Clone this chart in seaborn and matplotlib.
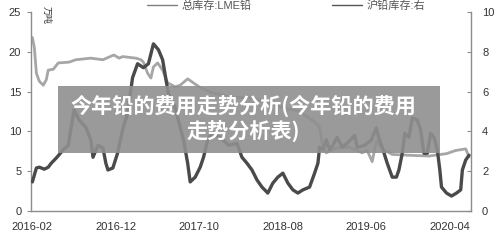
import numpy as np
import pandas as pd
import matplotlib
matplotlib.use("Agg")
import matplotlib.pyplot as plt
from matplotlib.patches import Rectangle
import seaborn as sns

# months since 2016-02 and values
lme_month = [0, 0.24, 0.48, 0.83, 1.31, 1.67, 1.9, 2.5, 3.1, 4.4, 5.2, 7.0, 8.45, 9.76, 10.4, 10.8,
             12.4, 13.0, 13.3, 13.8, 14.2, 14.5, 15.0, 15.6, 16.2, 17.1, 17.7, 18.6, 20.1, 21.7,
             24.0, 26.1, 27.9, 29.6, 32.0, 33.8, 34.4, 34.8, 35.2, 36.4, 38.0, 39.5, 40.1, 40.7,
             41.2, 41.9, 43.1, 45.1, 47.5, 49.6, 50.7, 51.9, 52.3]
lme_value = [21.8, 20.5, 17.3, 16.3, 15.8, 16.5, 17.7, 17.8, 18.6, 18.7, 19.0, 19.2, 19.0, 19.6, 19.2, 19.4,
             19.2, 19.0, 18.7, 17.3, 16.7, 18.1, 18.6, 17.7, 16.1, 15.6, 15.8, 16.6, 15.5, 14.8,
             14.3, 14.2, 13.7, 13.1, 12.5, 11.2, 10.5, 8.0, 7.3, 7.9, 8.0, 7.3, 7.6, 6.2,
             8.8, 7.8, 7.1, 7.0, 6.9, 7.2, 7.6, 7.8, 6.8]

shfe_month = [0, 0.48, 0.83, 1.43, 1.9, 2.26, 2.86, 3.7, 4.3, 4.64, 5.0, 5.6, 6.4, 7.0, 7.26, 7.86, 8.45,
              8.8, 9.05, 9.64, 10.2, 10.8, 11.4, 12.0, 12.6, 13.3, 13.9, 14.5, 15.1, 15.6, 16.0, 16.3,
              17.1, 17.4, 18.1, 18.6, 18.9, 19.5, 20.1, 20.5, 21.0, 21.5, 22.5, 23.5, 24.5, 25.1,
              25.7, 26.3, 26.9, 27.5, 28.2, 28.8, 29.4, 30.0, 30.6, 31.2, 31.8, 32.4, 33.2, 33.8,
              34.2, 34.4, 34.8, 35.2, 35.6, 36.0, 36.5, 37.1, 37.7, 38.6, 38.9, 39.8, 40.6, 41.2,
              41.5, 41.9, 42.5, 43.1, 43.6, 43.9, 44.3, 44.6, 45.1, 45.5, 46.1, 46.5, 46.9, 47.3,
              47.7, 48.1, 48.5, 48.8, 49.0, 49.6, 50.2, 50.8, 51.3, 51.5, 51.9, 52.3]
shfe_value = [1.46, 2.16, 2.2, 2.1, 2.2, 2.4, 2.66, 3.07, 3.3, 4.2, 5.07, 4.57, 4.2, 3.57, 2.7, 3.3, 3.17,
              2.4, 2.06, 2.16, 2.9, 4.07, 4.9, 6.7, 7.4, 7.2, 7.4, 8.4, 8.1, 7.6, 6.6, 5.9,
              5.2, 4.7, 3.57, 2.4, 1.46, 1.7, 2.2, 2.7, 3.57, 3.9, 3.7, 3.3, 3.4, 2.7,
              2.4, 2.06, 1.56, 1.2, 0.9, 1.4, 1.7, 1.9, 1.4, 1.06, 0.9, 1.06, 1.2, 1.9,
              2.4, 3.2, 3.07, 3.57, 3.07, 3.3, 3.7, 3.2, 3.4, 3.8, 3.2, 3.3, 3.57, 4.17,
              3.67, 3.2, 2.4, 1.7, 1.7, 2.06, 2.9, 3.9, 3.7, 4.67, 4.57, 4.07, 2.9, 2.9,
              3.9, 3.7, 3.07, 2.06, 1.2, 0.9, 0.75, 0.9, 1.06, 2.06, 2.56, 2.8]

tick_labels = ["2016-02", "2016-12", "2017-10", "2018-08", "2019-06", "2020-04"]
series_names = ["总库存:LME铅", "沪铅库存:右"]
unit_label = "万吨"
banner_text = "今年铅的费用走势分析(今年铅的费用\n走势分析表)"

start = pd.Timestamp("2016-02-01")
def to_dates(m):
    return start + pd.to_timedelta(np.array(m) * 30.4375, unit="D")

lme_df = pd.DataFrame({"date": to_dates(lme_month), "value": lme_value})
shfe_df = pd.DataFrame({"date": to_dates(shfe_month), "value": shfe_value})

sns.set_style("white")
plt.rcParams["font.family"] = ["Liberation Sans", "Noto Sans CJK SC", "DejaVu Sans"]

fig = plt.figure(figsize=(5, 2.4), dpi=100)
ax = fig.add_axes([0.062, 0.121, 0.880, 0.829])
ax2 = ax.twinx()

light = "#a6a6a6"
dark = "#4a4a4a"
sns.lineplot(data=lme_df, x="date", y="value", ax=ax, color=light, lw=2.0, label=series_names[0], legend=False)
sns.lineplot(data=shfe_df, x="date", y="value", ax=ax2, color=dark, lw=2.4, label=series_names[1], legend=False)

ax.set_ylim(0, 25)
ax.set_yticks([0, 5, 10, 15, 20, 25])
ax2.set_ylim(0, 10)
ax2.set_yticks([0, 2, 4, 6, 8, 10])
ax.set_xlim(pd.Timestamp("2016-01-27"), pd.Timestamp("2020-06-18"))
ticks = [pd.Timestamp(t + "-01") for t in tick_labels]
ax.set_xticks(ticks)
ax.set_xticklabels(tick_labels)
ax.set_xlabel("")
ax.set_ylabel("")
ax2.set_ylabel("")

spine_c = "#8c8c8c"
for a in (ax, ax2):
    a.spines["top"].set_visible(False)
    for s in ["left", "right", "bottom"]:
        a.spines[s].set_color(spine_c)
        a.spines[s].set_linewidth(1.0)
ax.spines["right"].set_visible(False)
ax2.spines["left"].set_visible(False)
ax2.spines["bottom"].set_visible(False)

ax.tick_params(axis="y", direction="out", length=3, width=0.8, color=spine_c, labelsize=8, labelcolor="#333333", pad=4)
ax.tick_params(axis="x", direction="out", length=3, width=0.8, color=spine_c, labelsize=8, labelcolor="#333333", pad=5)
ax2.tick_params(axis="y", direction="in", length=3, width=0.8, color=spine_c, labelsize=8, labelcolor="#333333", pad=8)

fig.text(0.092, 0.975, unit_label, rotation=-90, fontsize=6.5, color="#333333",
         family=["Noto Sans CJK SC"], ha="center", va="top")

h1, l1 = ax.get_legend_handles_labels()
h2, l2 = ax2.get_legend_handles_labels()
leg = fig.legend(h1 + h2, l1 + l2, loc="upper center", bbox_to_anchor=(0.572, 1.04), ncol=2,
                 frameon=False, handlelength=2.7, columnspacing=7.2, handletextpad=0.4,
                 prop={"family": ["Liberation Sans", "Noto Sans CJK SC"], "size": 8})
for t in leg.get_texts():
    t.set_color("#555555")
for lh in leg.get_lines():
    lh.set_linewidth(1.0)
leg.get_lines()[0].set_color("#7f7f7f")
leg.get_lines()[1].set_color("#555555")

fig.patches.append(Rectangle((0.116, 0.3625), 0.764, 0.279, transform=fig.transFigure,
                             facecolor="#8f8f8f", alpha=0.9, edgecolor="none", zorder=5))
fig.text(0.487, 0.505, banner_text, ha="center", va="center", color="white", fontsize=15.2,
         fontweight="bold", family=["Noto Sans CJK SC"], linespacing=1.2, zorder=6)

fig.savefig("out.png", dpi=100)
